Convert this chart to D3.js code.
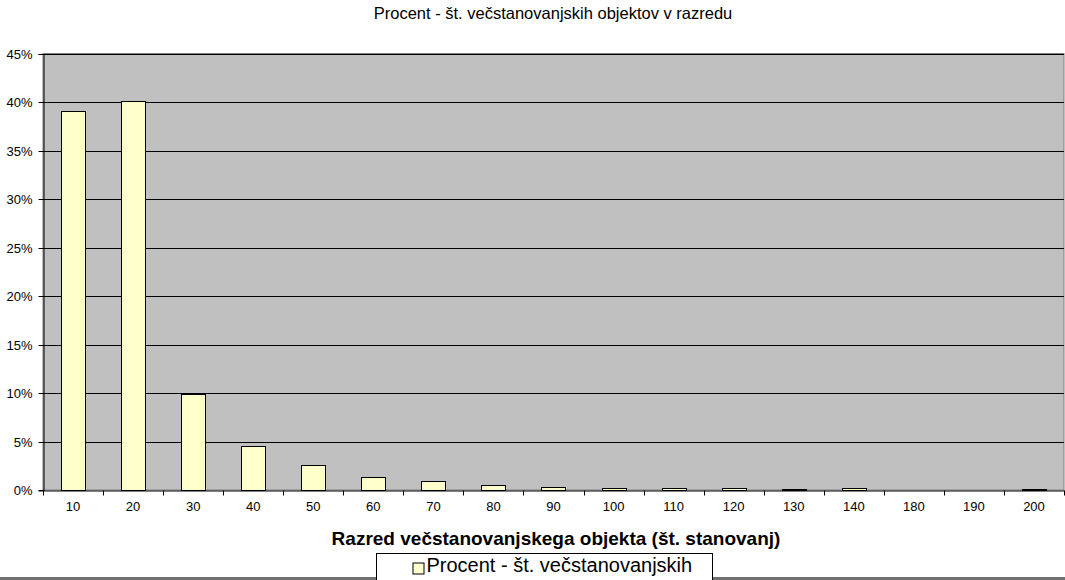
<!DOCTYPE html>
<html>
<head>
  <meta content="text/html;charset=utf-8" http-equiv="Content-Type">
  <title>Procent - št. večstanovanjskih objektov v razredu</title>
  <style type="text/css">
    body { margin: 0; background: #fff; }
    svg text { font-family: "Liberation Sans", Arial, sans-serif; fill: #000; }
    .tick text { font-size: 13px; }
  </style>
  <script src="https://cdnjs.cloudflare.com/ajax/libs/d3/7.6.1/d3.min.js"></script>
  <script>

    var categories = ['10', '20', '30', '40', '50', '60', '70', '80', '90', '100',
                      '110', '120', '130', '140', '180', '190', '200'];
    var percent = [39.05, 40.1, 9.9, 4.57, 2.6, 1.34, 0.88, 0.55, 0.33, 0.2,
                   0.24, 0.24, 0.13, 0.17, 0, 0, 0.1];
    var y_ticks = [0, 5, 10, 15, 20, 25, 30, 35, 40, 45];

    var margin = {left: 43, right: 1, top: 53.5, bottom: 90};

    function main() {
      var width = 1065, height = 580;
      var svg = d3.select('#chart').attr('width', width).attr('height', height);

      var x = d3.scaleBand().
            domain(categories).
            range([margin.left, width - margin.right]).
            paddingInner(0.6).
            paddingOuter(0.3);

      var y = d3.scaleLinear().
            domain([0, 45]).
            range([height - margin.bottom, margin.top]);

      // plot area
      svg.append('rect').
        attr('x', margin.left).
        attr('y', margin.top).
        attr('width', width - margin.right - margin.left).
        attr('height', y(0) - margin.top).
        attr('fill', '#c0c0c0').
        attr('stroke', '#808080');

      // grid lines
      svg.append('g').selectAll('line').
          data(y_ticks.slice(1)).
        enter().append('line').
          attr('x1', margin.left).
          attr('x2', width - margin.right).
          attr('y1', function(d) { return Math.round(y(d)) + 0.5; }).
          attr('y2', function(d) { return Math.round(y(d)) + 0.5; }).
          attr('stroke', '#000');

      // bars
      svg.append('g').selectAll('rect').
          data(percent).
        enter().append('rect').
          attr('x', function(d, i) { return Math.round(x(categories[i])) + 0.5; }).
          attr('y', function(d) { return Math.round(y(d)) + 0.5; }).
          attr('width', Math.round(x.bandwidth())).
          attr('height', function(d) { return Math.round(y(0)) - Math.round(y(d)); }).
          attr('fill', '#ffffcc').
          attr('stroke', '#000');

      // y axis
      var yAxis = svg.append('g').
            attr('transform', 'translate(' + (margin.left + 0.5) + ',0.5)').
            call(d3.axisLeft(y).tickValues(y_ticks).tickSize(5).tickPadding(6).
                 tickFormat(function(d) { return d + '%'; }));
      yAxis.selectAll('.tick').attr('transform', function(d) {
        return 'translate(0,' + Math.round(y(d)) + ')';
      });
      yAxis.select('.domain').attr('stroke', '#000');

      // x axis: ticks at band boundaries
      var xAxis = svg.append('g').
            attr('transform', 'translate(0,' + (Math.round(y(0)) + 0.5) + ')').
            call(d3.axisBottom(x).tickSize(0).tickPadding(11));
      xAxis.select('.domain').attr('stroke', '#000');
      var step = x.step();
      xAxis.append('g').selectAll('line').
          data(d3.range(categories.length + 1)).
        enter().append('line').
          attr('x1', function(i) { return Math.round(margin.left + i * step) + 0.5; }).
          attr('x2', function(i) { return Math.round(margin.left + i * step) + 0.5; }).
          attr('y1', 0).
          attr('y2', 5).
          attr('stroke', '#000');

      // title
      svg.append('text').
        attr('x', 553).
        attr('y', 19).
        attr('text-anchor', 'middle').
        style('font-size', '16.5px').
        text('Procent - št. večstanovanjskih objektov v razredu');

      // x axis title
      svg.append('text').
        attr('x', 556).
        attr('y', 545).
        attr('text-anchor', 'middle').
        style('font-size', '19px').
        style('font-weight', 'bold').
        text('Razred večstanovanjskega objekta (št. stanovanj)');

      // bottom strip
      svg.append('rect').
        attr('x', 0).attr('y', 577).attr('width', width).attr('height', 3).
        attr('fill', '#707070');

      // legend (cut off by the window bottom)
      var legend = svg.append('g').attr('transform', 'translate(376.5,553.5)');
      legend.append('rect').
        attr('width', 336).attr('height', 60).
        attr('fill', '#fff').attr('stroke', '#000');
      legend.append('rect').
        attr('x', 36.5).attr('y', 9.5).attr('width', 11).attr('height', 11).
        attr('fill', '#ffffcc').attr('stroke', '#000');
      legend.append('text').
        attr('x', 50).attr('y', 18.5).
        style('font-size', '20px').
        text('Procent - št. večstanovanjskih');
      legend.append('text').
        attr('x', 50).attr('y', 41).
        style('font-size', '20px').
        text('objektov v razredu');
    }

  </script>
</head>
<body onload='main()'>
  <svg id="chart"></svg>
</body>
</html>
